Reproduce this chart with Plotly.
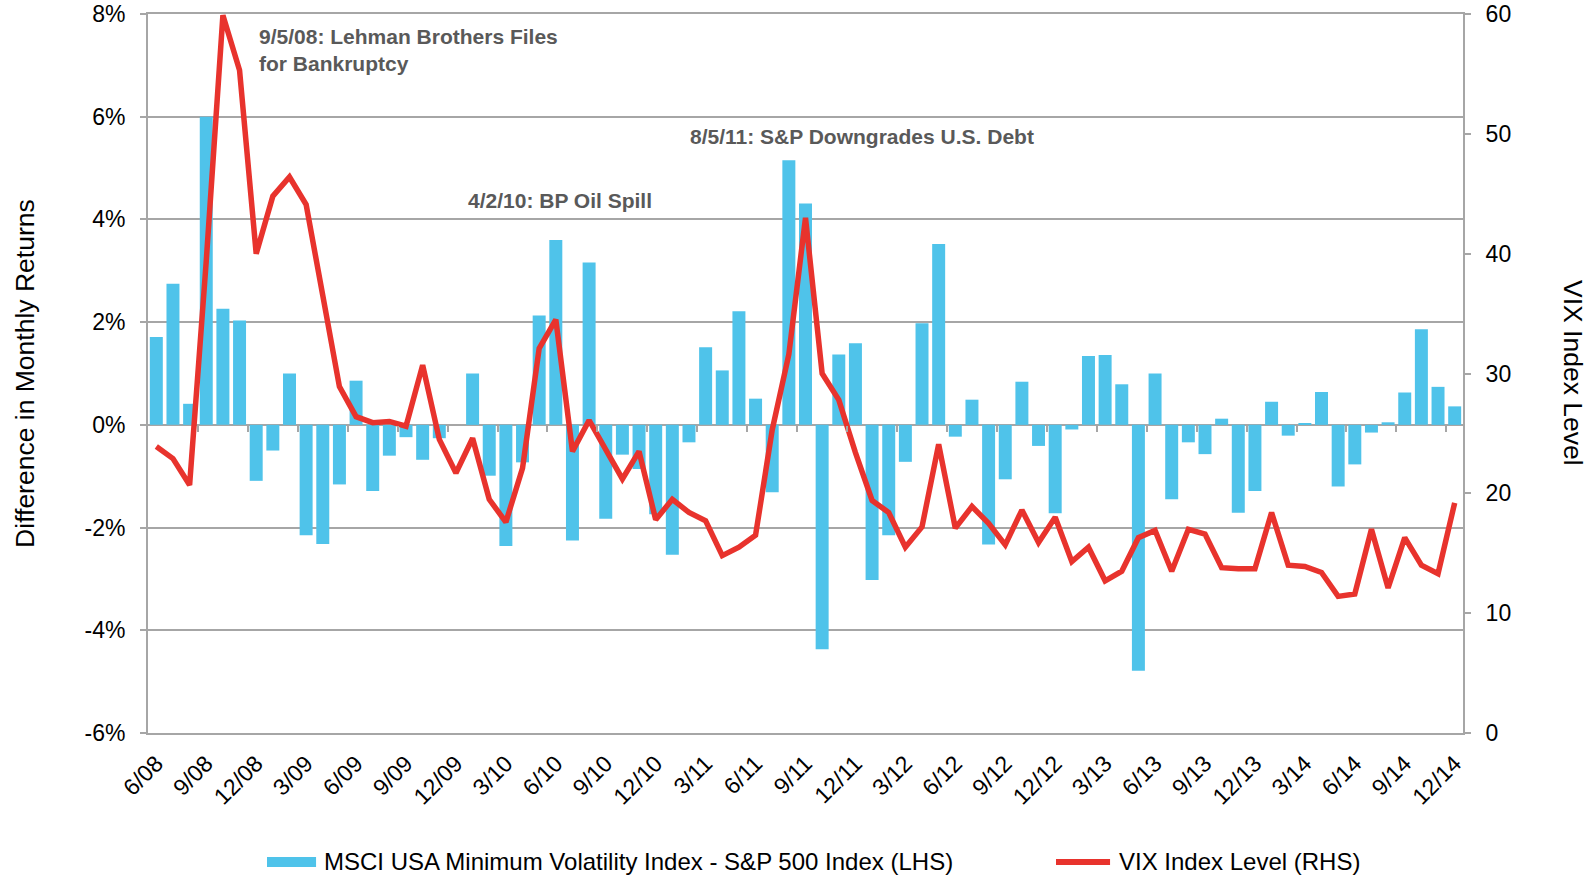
import plotly.graph_objects as go

# month labels 6/08 .. 12/14
months = []
for year in range(8, 15):
  for m in range(1, 13):
    if year == 8 and m < 6:
      continue
    months.append("{}/{:02d}".format(m, year))

tick_labels = months[::3]

# MSCI USA Min Vol minus S&P 500, monthly return difference (%)
return_diff = [1.71, 2.75, 0.41, 6.00, 2.26, 2.03, -1.09, -0.50, 1.00, -2.15,
               -2.32, -1.16, 0.86, -1.29, -0.60, -0.24, -0.68, -0.26, 0.00, 1.00,
               -0.99, -2.36, -0.73, 2.13, 3.60, -2.25, 3.16, -1.83, -0.58, -0.86,
               -1.74, -2.53, -0.34, 1.51, 1.06, 2.21, 0.51, -1.31, 5.15, 4.31,
               -4.37, 1.37, 1.59, -3.02, -2.15, -0.72, 1.98, 3.52, -0.23, 0.49,
               -2.33, -1.06, 0.84, -0.41, -1.72, -0.09, 1.34, 1.36, 0.79, -4.79,
               1.00, -1.45, -0.34, -0.57, 0.12, -1.71, -1.29, 0.45, -0.21, 0.02,
               0.64, -1.20, -0.77, -0.15, 0.05, 0.63, 1.86, 0.74, 0.36]

# VIX month end level
vix = [23.9, 22.9, 20.7, 39.4, 59.9, 55.3, 40.0, 44.8, 46.4, 44.1,
       36.5, 28.9, 26.4, 25.9, 26.0, 25.6, 30.7, 24.5, 21.7, 24.6,
       19.5, 17.6, 22.1, 32.1, 34.5, 23.5, 26.1, 23.7, 21.2, 23.5,
       17.8, 19.5, 18.4, 17.7, 14.8, 15.5, 16.5, 25.3, 31.6, 43.0,
       30.0, 27.8, 23.4, 19.4, 18.4, 15.5, 17.2, 24.1, 17.1, 18.9,
       17.5, 15.7, 18.6, 15.9, 18.0, 14.3, 15.5, 12.7, 13.5, 16.3,
       16.9, 13.5, 17.0, 16.6, 13.8, 13.7, 13.7, 18.4, 14.0, 13.9,
       13.4, 11.4, 11.6, 17.0, 12.1, 16.3, 14.0, 13.3, 19.2]

left_ticks = [-6, -4, -2, 0, 2, 4, 6, 8]
left_text = ["-6%", "-4%", "-2%", "0%", "2%", "4%", "6%", "8%"]

bar_name = "MSCI USA Minimum Volatility Index - S&P 500 Index (LHS)"
line_name = "VIX Index Level (RHS)"

grey = "#A6A6A6"
blue = "#4FC3EA"
red = "#E8332D"
font = "Liberation Sans, Arial, sans-serif"

n = len(months)
# small tick marks on the zero line sit between quarters
quarter_marks = [i - 0.5 for i in range(3, n, 3)]

fig = go.Figure()
fig.add_trace(go.Bar(x=months, y=return_diff, marker_color=blue, marker_line_width=0,
                     name=bar_name))
fig.add_trace(go.Scatter(x=months, y=vix, yaxis="y2", mode="lines",
                         line=dict(color=red, width=5.5), name=line_name))
fig.add_trace(go.Scatter(x=[-0.5, n - 0.5], y=[0, 0], xaxis="x2", mode="none",
                         hoverinfo="skip", showlegend=False))

fig.update_layout(
  width=1596, height=877,
  margin=dict(l=148, r=133, t=14, b=144),
  plot_bgcolor="white", paper_bgcolor="white",
  font=dict(family=font, size=22, color="black"),
  bargap=0.22,
  showlegend=False,
  xaxis=dict(type="category", tickmode="array", tickvals=tick_labels, ticktext=tick_labels,
             tickangle=-45, showgrid=False, showline=True, mirror=True, automargin=False,
             linecolor=grey, linewidth=2, ticks="", tickfont=dict(size=23),
             ticklabelstandoff=6),
  xaxis2=dict(range=[-0.5, n - 0.5], overlaying="x", anchor="free", position=6 / 14,
              showgrid=False, zeroline=False, showline=False, showticklabels=False,
              tickmode="array", tickvals=quarter_marks, ticks="outside", ticklen=6,
              tickcolor=grey, tickwidth=2, automargin=False),
  yaxis=dict(range=[-6, 8], tickmode="array", tickvals=left_ticks, ticktext=left_text,
             showgrid=True, gridcolor=grey, gridwidth=1.5, automargin=False,
             zeroline=True, zerolinecolor=grey, zerolinewidth=2,
             showline=True, linecolor=grey, linewidth=2,
             ticks="outside", ticklen=6, tickcolor=grey, tickwidth=2,
             ticklabelstandoff=10, tickfont=dict(size=23)),
  yaxis2=dict(range=[0, 60], dtick=10, overlaying="y", side="right", automargin=False,
              showgrid=False, zeroline=False, showline=True, linecolor=grey, linewidth=2,
              ticks="outside", ticklen=6, tickcolor=grey, tickwidth=2,
              ticklabelstandoff=10, tickfont=dict(size=23)),
)

notes = [
  ("9/5/08: Lehman Brothers Files<br>for Bankruptcy", 0.083, 0.95),
  ("4/2/10: BP Oil Spill", 0.242, 0.740),
  ("8/5/11: S&P Downgrades U.S. Debt", 0.411, 0.830),
]
for txt, xx, yy in notes:
  fig.add_annotation(text="<b>" + txt + "</b>", xref="paper", yref="paper", x=xx, y=yy,
                     xanchor="left", yanchor="middle", align="left", showarrow=False,
                     font=dict(size=21, color="#595959"))

fig.add_annotation(text="Difference in Monthly Returns", xref="paper", yref="paper",
                   x=-0.094, y=0.5, textangle=-90, showarrow=False,
                   xanchor="center", yanchor="middle", font=dict(size=26.5))
fig.add_annotation(text="VIX Index Level", xref="paper", yref="paper",
                   x=1.084, y=0.5, textangle=90, showarrow=False,
                   xanchor="center", yanchor="middle", font=dict(size=26.5))

# legend drawn by hand so the swatches match the original
fig.add_shape(type="rect", xref="paper", yref="paper", x0=0.0905, x1=0.1278,
              y0=-0.1864, y1=-0.1725, fillcolor=blue, line_width=0)
fig.add_annotation(text=bar_name, xref="paper", yref="paper", x=0.1323, y=-0.1794,
                   xanchor="left", yanchor="middle", showarrow=False, font=dict(size=24))
fig.add_shape(type="line", xref="paper", yref="paper", x0=0.6905, x1=0.7316,
              y0=-0.1794, y1=-0.1794, line=dict(color=red, width=6))
fig.add_annotation(text=line_name, xref="paper", yref="paper", x=0.7369, y=-0.1794,
                   xanchor="left", yanchor="middle", showarrow=False, font=dict(size=24))

fig.write_html("out.html", config={"displayModeBar": False},
               post_script="document.body.style.margin='0';")
